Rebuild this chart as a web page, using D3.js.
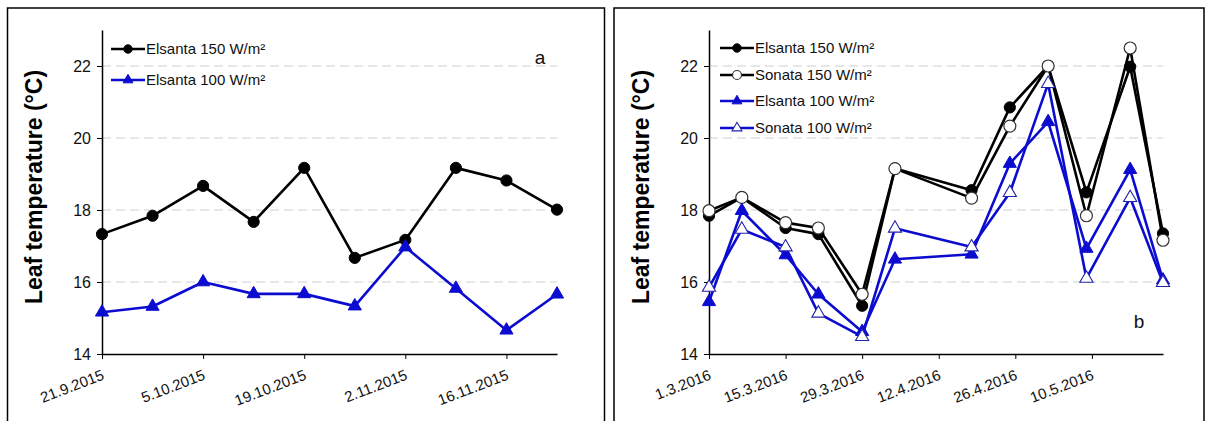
<!DOCTYPE html>
<html><head><meta charset="utf-8">
<script src="https://cdn.jsdelivr.net/npm/d3@7"></script>
<style>body{margin:0;background:#fff}svg{display:block}text{font-family:Arial,"Liberation Sans",sans-serif}</style>
</head><body>
<svg id="c" width="1206" height="421"></svg>
<script>
// ---- data ----
const datesA = ["2015-09-21","2015-09-28","2015-10-05","2015-10-12","2015-10-19","2015-10-26","2015-11-02","2015-11-09","2015-11-16","2015-11-23"];
const elsanta150A = [17.33,17.84,18.67,17.67,19.17,16.67,17.17,19.17,18.82,18.01];
const elsanta100A = [15.16,15.32,16.0,15.67,15.67,15.33,16.97,15.82,14.66,15.66];
const ticksA = ["2015-09-21","2015-10-05","2015-10-19","2015-11-02","2015-11-16"];
const domainA = ["2015-09-21","2015-11-23"];

const datesB = ["2016-03-01","2016-03-07","2016-03-15","2016-03-21","2016-03-29","2016-04-04","2016-04-18","2016-04-25","2016-05-02","2016-05-09","2016-05-17","2016-05-23"];
const elsanta150B = [17.84,18.35,17.5,17.33,15.34,19.15,18.55,20.85,22.0,18.49,21.98,17.35];
const sonata150B  = [17.98,18.35,17.65,17.5,15.66,19.15,18.33,20.33,22.0,17.84,22.5,17.16];
const elsanta100B = [15.45,17.98,16.75,15.66,14.62,16.63,16.77,19.29,20.45,16.93,19.12,16.05];
const sonata100B  = [15.85,17.46,16.97,15.13,14.48,17.49,16.97,18.48,21.51,16.1,18.34,15.98];
const ticksB = ["2016-03-01","2016-03-15","2016-03-29","2016-04-12","2016-04-26","2016-05-10"];
const domainB = ["2016-03-01","2016-05-23"];

const yTicks = [14,16,18,20,22];
const yDomain = [14,23];
const yLabel = "Leaf temperature (°C)";

const BLACK = "#000", BLUE = "#0c0cd0";
const svg = d3.select("#c");
const parse = d3.utcParse("%Y-%m-%d");
const fmt = d => d.getUTCDate() + "." + (d.getUTCMonth()+1) + "." + d.getUTCFullYear();
const ANG = 21 * Math.PI / 180;

// measurer for per-glyph placement of slanted labels
const meas = svg.append("text").attr("font-size",15).attr("x",-1000).attr("y",-1000);
function glyphOffsets(s){
  meas.text(s);
  const n = meas.node(); const offs = [];
  for(let i=0;i<s.length;i++) offs.push(i===0?0:n.getSubStringLength(0,i));
  return {offs, len:n.getComputedTextLength()};
}

function slantLabel(g, s, ex, ey){
  const {offs,len} = glyphOffsets(s);
  const ux = Math.cos(ANG), uy = -Math.sin(ANG);
  const sx = ex - len*ux, sy = ey - len*uy;
  g.append("text").attr("font-size",15).attr("fill","#111")
    .attr("x", offs.map(o=>(sx+o*ux).toFixed(2)).join(" "))
    .attr("y", offs.map(o=>(sy+o*uy).toFixed(2)).join(" "))
    .attr("rotate", offs.map(()=> -21).join(" "))
    .text(s);
}

function panel(opt){
  const g = svg.append("g");
  // frame
  g.append("rect").attr("x",opt.fx).attr("y",8).attr("width",opt.fw).attr("height",430)
    .attr("fill","none").attr("stroke","#000").attr("stroke-width",1.5);
  const x = d3.scaleUtc().domain(opt.domain.map(parse)).range([opt.x0,opt.x1]);
  const y = d3.scaleLinear().domain(yDomain).range([354,30]);
  // grid
  g.selectAll(".grid").data(yTicks.slice(1)).join("line")
    .attr("x1",opt.x0).attr("x2",opt.x1).attr("y1",d=>y(d)).attr("y2",d=>y(d))
    .attr("stroke","#cfcfcf").attr("stroke-width",1).attr("stroke-dasharray","9,5");
  // y axis
  const ya = g.append("g").attr("transform",`translate(${opt.x0},0)`)
    .call(d3.axisLeft(y).tickValues(yTicks).tickSize(5).tickPadding(6).tickSizeOuter(0));
  ya.select(".domain").attr("stroke-width",1.5);
  ya.selectAll("text").attr("font-size",16).attr("fill","#111");
  // x axis
  const tv = opt.ticks.map(parse);
  const xa = g.append("g").attr("transform","translate(0,354)")
    .call(d3.axisBottom(x).tickValues(tv).tickFormat("").tickSize(5).tickSizeOuter(0));
  xa.select(".domain").attr("stroke-width",1.5);
  tv.forEach(d => slantLabel(g, fmt(d), x(d)+3, 379));
  // y label
  g.append("text").attr("transform",`translate(${opt.lx},187) rotate(-90)`)
    .attr("text-anchor","middle").attr("font-size",23).attr("font-weight","bold").text(yLabel);
  // series
  const dates = opt.dates.map(parse);
  opt.series.forEach(s=>{
    const line = d3.line().x((d,i)=>x(dates[i])).y(d=>y(d));
    g.append("path").datum(s.values).attr("d",line).attr("fill","none")
      .attr("stroke",s.color).attr("stroke-width",2.6).attr("stroke-linejoin","round");
    drawMarkers(g, s.values.map((v,i)=>[x(dates[i]),y(v)]), s, 1);
  });
  // legend
  opt.series.forEach((s,i)=>{
    const ly = opt.legY[i];
    g.append("line").attr("x1",opt.legX).attr("x2",opt.legX+34).attr("y1",ly).attr("y2",ly)
      .attr("stroke",s.color).attr("stroke-width",2.6);
    drawMarkers(g, [[opt.legX+17,ly]], s, 0.75);
    g.append("text").attr("x",opt.legX+35).attr("y",ly).attr("dy","0.36em")
      .attr("font-size",15).attr("fill","#111").text(s.name);
  });
  g.append("text").attr("x",opt.tag[0]).attr("y",opt.tag[1]).attr("text-anchor","middle")
    .attr("font-size",19).attr("fill","#111").text(opt.tag[2]);
}

function drawMarkers(g, pts, s, k){
  if(s.shape==="circle"){
    g.selectAll(null).data(pts).join("circle").attr("cx",d=>d[0]).attr("cy",d=>d[1])
      .attr("r",(s.open?6:5.6)*k).attr("fill",s.open?"#fff":s.color)
      .attr("stroke",s.open?"#333":s.color).attr("stroke-width",s.open?1.2:1);
  } else {
    const sym = d3.symbol().type(d3.symbolTriangle).size(75*k*k);
    g.selectAll(null).data(pts).join("path").attr("d",sym)
      .attr("transform",d=>`translate(${d[0]},${d[1]})`)
      .attr("fill",s.open?"#fff":s.color).attr("stroke",s.open?"#2222aa":s.color).attr("stroke-width",s.open?1.1:1);
  }
}

panel({fx:7.5,fw:597,x0:102,x1:557,domain:domainA,ticks:ticksA,dates:datesA,lx:42,
  legX:111,legY:[49,80],tag:[540,64,"a"],
  series:[
    {name:"Elsanta 150 W/m²",values:elsanta150A,color:BLACK,shape:"circle",open:false},
    {name:"Elsanta 100 W/m²",values:elsanta100A,color:BLUE,shape:"triangle",open:false}
  ]});
panel({fx:614,fw:590,x0:709,x1:1163,domain:domainB,ticks:ticksB,dates:datesB,lx:649,
  legX:720,legY:[48,75,101,128],tag:[1139,328,"b"],
  series:[
    {name:"Elsanta 150 W/m²",values:elsanta150B,color:BLACK,shape:"circle",open:false},
    {name:"Sonata 150 W/m²",values:sonata150B,color:BLACK,shape:"circle",open:true},
    {name:"Elsanta 100 W/m²",values:elsanta100B,color:BLUE,shape:"triangle",open:false},
    {name:"Sonata 100 W/m²",values:sonata100B,color:BLUE,shape:"triangle",open:true}
  ]});
meas.remove();
</script>
</body></html>
